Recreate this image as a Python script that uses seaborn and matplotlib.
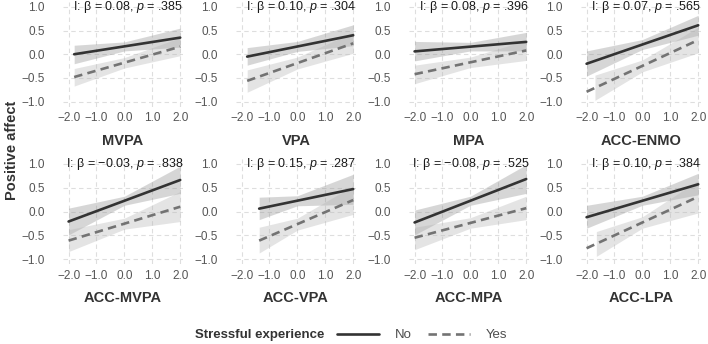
import matplotlib
matplotlib.use("Agg")
import matplotlib.pyplot as plt
from matplotlib.lines import Line2D
import numpy as np
import pandas as pd
import seaborn as sns

# ---- data ----
panels = ["MVPA", "VPA", "MPA", "ACC-ENMO", "ACC-MVPA", "ACC-VPA", "ACC-MPA", "ACC-LPA"]
betas = ["0.08", "0.10", "0.08", "0.07", "\u22120.03", "0.15", "\u22120.08", "0.10"]
pvals = [".385", ".304", ".396", ".565", ".838", ".287", ".525", ".384"]

# fitted lines (start / end of each regression line)
no_x0 = [-1.8, -1.8, -2.0, -2.0, -2.0, -1.37, -2.0, -2.0]
no_x1 = [2.0, 2.0, 2.0, 2.0, 2.0, 2.0, 2.0, 2.0]
no_y0 = [0.00, -0.05, 0.06, -0.20, -0.21, 0.06, -0.23, -0.12]
no_y1 = [0.35, 0.40, 0.26, 0.61, 0.66, 0.47, 0.68, 0.57]

yes_x0 = [-1.8, -1.8, -2.0, -2.0, -2.0, -1.37, -2.0, -2.0]
yes_x1 = [2.0, 2.0, 2.0, 2.0, 2.0, 2.0, 2.0, 2.0]
yes_y0 = [-0.48, -0.56, -0.42, -0.79, -0.61, -0.61, -0.55, -0.77]
yes_y1 = [0.16, 0.23, 0.08, 0.30, 0.10, 0.24, 0.07, 0.31]

# confidence bands: lower / upper at band start, x = 0, band end
no_bx0 = [-1.8, -1.8, -2.0, -2.0, -2.0, -1.37, -2.0, -2.0]
no_lo = [[-0.20, 0.07, 0.15], [-0.23, 0.06, 0.18], [-0.14, 0.07, 0.07], [-0.46, 0.10, 0.40],
         [-0.49, 0.13, 0.38], [-0.17, 0.12, 0.15], [-0.49, 0.13, 0.38], [-0.35, 0.13, 0.35]]
no_hi = [[0.19, 0.26, 0.55], [0.14, 0.27, 0.62], [0.27, 0.25, 0.46], [0.07, 0.31, 0.82],
         [0.07, 0.32, 0.95], [0.30, 0.33, 0.78], [0.03, 0.32, 0.98], [0.13, 0.32, 0.80]]
yes_bx0 = [-1.8, -1.8, -2.0, -1.7, -2.0, -1.37, -2.0, -1.65]
yes_lo = [[-0.67, -0.29, -0.03], [-0.80, -0.31, 0.02], [-0.62, -0.28, -0.13], [-0.97, -0.37, 0.03],
          [-0.84, -0.37, -0.21], [-0.87, -0.39, -0.06], [-0.80, -0.35, -0.17], [-0.94, -0.35, -0.03]]
yes_hi = [[-0.30, -0.07, 0.35], [-0.33, -0.06, 0.46], [-0.23, -0.06, 0.29], [-0.44, -0.12, 0.57],
          [-0.38, -0.14, 0.42], [-0.33, -0.14, 0.54], [-0.33, -0.13, 0.32], [-0.42, -0.11, 0.65]]

# ---- style ----
sns.set_theme(style="whitegrid")
plt.rcParams['font.family'] = ['Liberation Sans', 'DejaVu Sans']
plt.rcParams['mathtext.fontset'] = 'custom'
plt.rcParams['mathtext.rm'] = 'Liberation Sans'
plt.rcParams['mathtext.it'] = 'Liberation Sans:italic'
plt.rcParams['axes.unicode_minus'] = True

W, H = 708, 344
fig = plt.figure(figsize=(W / 100, H / 100), dpi=100)
fig.patch.set_facecolor("white")

lefts = [63, 236, 409, 581]
width = 120
rows = [(2, 106.5), (159, 264)]

col_no, col_yes = "#333333", "#737373"
dash = (3.2, 2.0)

for i, name in enumerate(panels):
    r, c = divmod(i, 4)
    top, bot = rows[r]
    ax = fig.add_axes([lefts[c] / W, 1 - bot / H, width / W, (bot - top) / H])

    # bands
    ax.fill_between([no_bx0[i], 0.0, no_x1[i]], no_lo[i], no_hi[i],
                    color="#8c8c8c", alpha=0.35, lw=0, zorder=1)
    ax.fill_between([yes_bx0[i], 0.0, yes_x1[i]], yes_lo[i], yes_hi[i],
                    color="#b3b3b3", alpha=0.35, lw=0, zorder=1)

    df = pd.DataFrame({
        "x": [no_x0[i], no_x1[i], yes_x0[i], yes_x1[i]],
        "y": [no_y0[i], no_y1[i], yes_y0[i], yes_y1[i]],
        "group": ["No", "No", "Yes", "Yes"],
    })
    sns.lineplot(data=df, x="x", y="y", hue="group", style="group",
                 palette={"No": col_no, "Yes": col_yes},
                 dashes={"No": "", "Yes": dash}, estimator=None,
                 linewidth=1.9, legend=False, ax=ax, zorder=3)

    ax.set_xlim(-2.2, 2.1)
    ax.set_ylim(-1.1, 1.1)
    ax.set_xticks([-2, -1, 0, 1, 2])
    ax.set_yticks([-1, -0.5, 0, 0.5, 1])
    ax.set_xticklabels(["\u22122.0", "\u22121.0", "0.0", "1.0", "2.0"])
    ax.set_yticklabels(["\u22121.0", "\u22120.5", "0.0", "0.5", "1.0"])
    ax.tick_params(axis="both", labelsize=8.5, labelcolor="#555555", length=0)
    ax.tick_params(axis="y", pad=13)
    ax.tick_params(axis="x", pad=4)
    ax.grid(True, color="#dedede", linestyle=(0, (4, 3)), linewidth=0.8)
    ax.set_facecolor("white")
    for s in ax.spines.values():
        s.set_visible(False)
    ax.set_ylabel("")
    ax.set_xlabel(name, fontsize=10.5, fontweight="bold", color="#333333", labelpad=7)

    ax.text(2.12, 1.0, "I: \u03b2 = " + betas[i] + ", $\\it{p}$ = " + pvals[i],
            ha="right", va="center", fontsize=9.0, color="#1a1a1a", zorder=4)

fig.text(12 / W, 1 - 150 / H, "Positive affect", rotation=90, ha="center", va="center",
         fontsize=10.5, fontweight="bold", color="#333333")

# legend
fig.text(195 / W, 1 - 335 / H, "Stressful experience", ha="left", va="center",
         fontsize=9.5, fontweight="bold", color="#333333")
handles = [Line2D([0], [0], color=col_no, lw=1.9),
           Line2D([0], [0], color=col_yes, lw=1.9, dashes=dash)]
fig.legend(handles, ["No", "Yes"], ncol=2, loc="center left",
           bbox_to_anchor=(325 / W, 1 - 335 / H), frameon=False,
           fontsize=9.5, handlelength=3.2, columnspacing=1.2, handletextpad=1.2,
           labelcolor="#4d4d4d")

fig.savefig("out.png", dpi=100, facecolor="white")
